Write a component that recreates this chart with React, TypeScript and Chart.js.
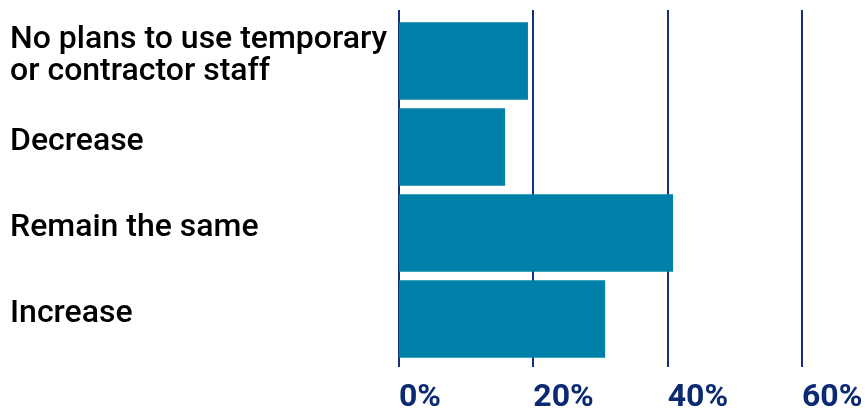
import React, { useEffect, useRef } from "react";
import { Chart, registerables } from "chart.js";

Chart.register(...registerables);

const categories: (string | string[])[] = [
  ["No plans to use temporary", "or contractor staff"],
  "Decrease",
  "Remain the same",
  "Increase",
];
const values: number[] = [19.2, 15.8, 40.8, 30.7];
const tickValues: number[] = [0, 20, 40, 60];

const GRID = "#11307e";
const BAR = "#0080a9";
const TICK = "#0b2a73";

const gridPlugin = {
  id: "extGrid",
  beforeDatasetsDraw(chart: any) {
    const { ctx, chartArea, scales } = chart;
    const x = scales.x;
    ctx.save();
    ctx.strokeStyle = GRID;
    ctx.lineWidth = 2;
    tickValues.forEach((v) => {
      const px = Math.round(x.getPixelForValue(v)) + 0;
      ctx.beginPath();
      ctx.moveTo(px, chartArea.top - 8);
      ctx.lineTo(px, chartArea.bottom + 5);
      ctx.stroke();
    });
    ctx.restore();
  },
};

export default function App() {
  const ref = useRef<HTMLCanvasElement>(null);
  useEffect(() => {
    const chart = new Chart(ref.current!, {
      type: "bar",
      data: {
        labels: categories,
        datasets: [
          {
            data: values,
            backgroundColor: BAR,
            barPercentage: 0.9,
            categoryPercentage: 1,
          },
        ],
      },
      plugins: [gridPlugin],
      options: {
        indexAxis: "y",
        animation: false,
        responsive: false,
        layout: { padding: { top: 18, right: 63, left: 10, bottom: 0 } },
        plugins: { legend: { display: false }, tooltip: { enabled: false } },
        scales: {
          x: {
            min: 0,
            max: 60,
            afterBuildTicks(scale: any) {
              scale.ticks = tickValues.map((v) => ({ value: v }));
            },
            afterFit(scale: any) {
              scale.height = 50;
              scale.paddingLeft = 0;
              scale.paddingRight = 0;
            },
            grid: { display: false },
            border: { display: false },
            ticks: {
              align: "start",
              padding: 10,
              color: TICK,
              font: { family: "Roboto", size: 32, weight: "bold", lineHeight: 1.1 },
              callback: (v: any) => v + "%",
            },
          },
          y: {
            afterFit(scale: any) {
              scale.width = 389;
              scale.paddingTop = 0;
              scale.paddingBottom = 0;
            },
            grid: { display: false },
            border: { display: false },
            ticks: {
              crossAlign: "far",
              padding: 0,
              labelOffset: (c: any) => (c.index === 0 ? 0 : -5),
              color: "#000000",
              font: { family: "Roboto", size: 32, weight: 500, lineHeight: 1.0 },
            },
          },
        },
      },
    } as any);
    return () => chart.destroy();
  }, []);
  return (
    <div style={{ position: "fixed", left: 0, top: 0, width: 865, height: 412, background: "#fff" }}>
      <canvas ref={ref} width={865} height={412} style={{ display: "block" }} />
    </div>
  );
}
